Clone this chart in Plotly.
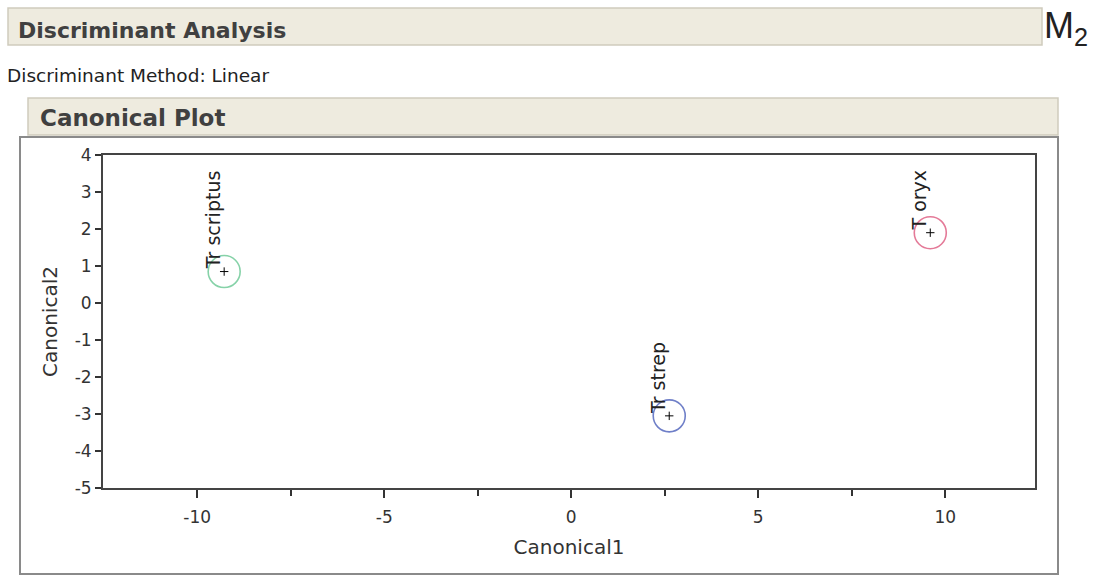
import plotly.graph_objects as go

groups = ["Tr scriptus", "Tr strep", "T oryx"]
canonical1 = [-9.28, 2.62, 9.6]
canonical2 = [0.85, -3.05, 1.9]
circle_colors = ["#86d2a8", "#6f7fc8", "#e47a98"]

x_ticks = [-10, -5, 0, 5, 10]
x_minor = [-7.5, -2.5, 2.5, 7.5]
y_ticks = [-5, -4, -3, -2, -1, 0, 1, 2, 3, 4]

W, H = 1094, 576
L, R, T, B = 103, 1035, 155, 488

def px(x):
    return (x - L) / (R - L)

def py(y):
    return (B - y) / (B - T)

fig = go.Figure()

for g, x, y, c in zip(groups, canonical1, canonical2, circle_colors):
    fig.add_trace(go.Scatter(
        x=[x], y=[y], mode="markers", name=g, showlegend=False,
        marker=dict(symbol="circle-open", size=32, color=c, line=dict(width=1.6, color=c)),
        hoverinfo="skip"))
    fig.add_trace(go.Scatter(
        x=[x], y=[y], mode="markers", showlegend=False,
        marker=dict(symbol="cross-thin", size=6, color="black", line=dict(width=1, color="black")),
        hoverinfo="skip"))
    fig.add_annotation(x=x, y=y, xref="x", yref="y", text=g, showarrow=False,
                       textangle=-90, xanchor="center", yanchor="bottom",
                       xshift=-11, yshift=0,
                       font=dict(family="DejaVu Sans", size=19, color="#222"))

shapes = []
shapes.append(dict(type="rect", xref="paper", yref="paper",
                   x0=px(20), x1=px(1058), y0=py(574), y1=py(137),
                   line=dict(color="#8a8a8a", width=2), fillcolor="rgba(0,0,0,0)", layer="below"))
shapes.append(dict(type="rect", xref="paper", yref="paper",
                   x0=px(8), x1=px(1042), y0=py(45), y1=py(8),
                   line=dict(color="#cfcbbd", width=1.5), fillcolor="#eeebdf", layer="below"))
shapes.append(dict(type="rect", xref="paper", yref="paper",
                   x0=px(28), x1=px(1058), y0=py(135), y1=py(98),
                   line=dict(color="#cfcbbd", width=1.5), fillcolor="#eeebdf", layer="below"))
fig.update_layout(shapes=shapes)

fig.add_annotation(xref="paper", yref="paper", x=px(16), y=py(31), text="<b>Discriminant Analysis</b>",
                   showarrow=False, xanchor="left", yanchor="middle",
                   font=dict(family="DejaVu Sans", size=22, color="#404040"))
fig.add_annotation(xref="paper", yref="paper", x=px(1042), y=py(28), text="M<sub>2</sub>",
                   showarrow=False, xanchor="left", yanchor="middle",
                   font=dict(family="Liberation Sans", size=36, color="#222"))
fig.add_annotation(xref="paper", yref="paper", x=px(5), y=py(75), text="Discriminant Method: Linear",
                   showarrow=False, xanchor="left", yanchor="middle",
                   font=dict(family="DejaVu Sans", size=18.5, color="#222"))
fig.add_annotation(xref="paper", yref="paper", x=px(38), y=py(118), text="<b>Canonical Plot</b>",
                   showarrow=False, xanchor="left", yanchor="middle",
                   font=dict(family="DejaVu Sans", size=23, color="#404040"))

axis_font = dict(family="DejaVu Sans", size=17, color="#333")

fig.update_xaxes(range=[-12.52, 12.4], tickvals=x_ticks, ticktext=[str(v) for v in x_ticks],
                 ticks="outside", ticklen=8, ticklabelstandoff=5,
                 tickwidth=1.5, tickcolor="#333", showgrid=False, zeroline=False,
                 showline=True, linecolor="#444", linewidth=2, mirror=True,
                 tickfont=axis_font,
                 minor=dict(tickvals=x_minor, ticks="outside", ticklen=6,
                            tickwidth=1.5, tickcolor="#333", showgrid=False),
                 title=dict(text="Canonical1", font=dict(family="DejaVu Sans", size=20, color="#333"), standoff=14))
fig.update_yaxes(range=[-5, 4], tickvals=y_ticks, ticktext=[str(v) for v in y_ticks],
                 ticks="outside", ticklen=6,
                 tickwidth=1.5, tickcolor="#333", showgrid=False, zeroline=False,
                 showline=True, linecolor="#444", linewidth=2, mirror=True,
                 tickfont=axis_font,
                 title=dict(text="Canonical2", font=dict(family="DejaVu Sans", size=20, color="#333"), standoff=12))

fig.update_layout(width=W, height=H, margin=dict(l=L, r=W - R, t=T, b=H - B),
                  paper_bgcolor="white", plot_bgcolor="white")

fig.write_html("out.html")
